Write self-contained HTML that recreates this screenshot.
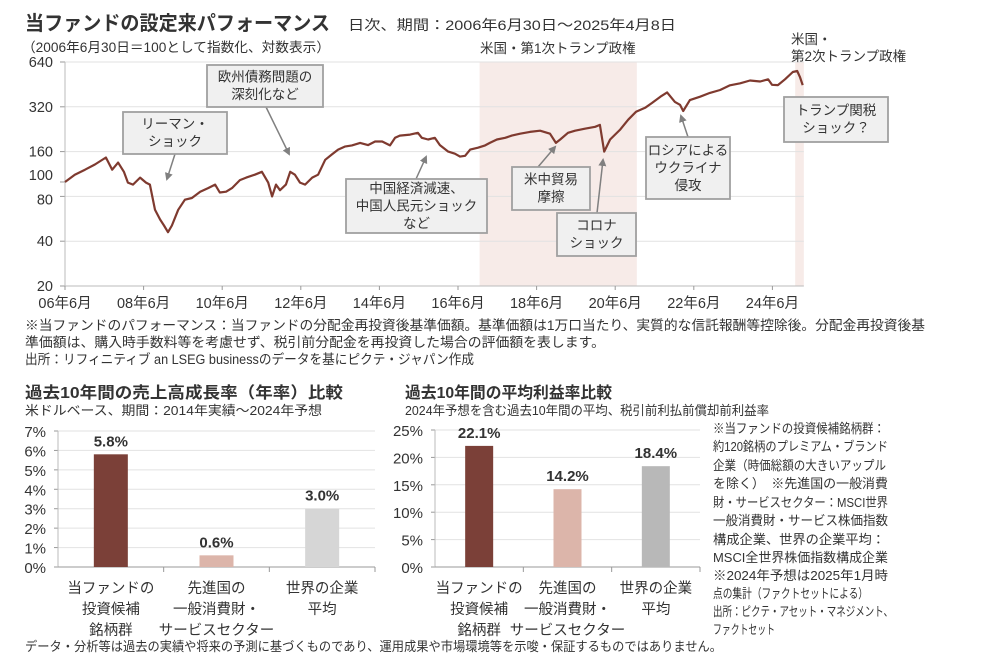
<!DOCTYPE html>
<html><head><meta charset="utf-8">
<style>
body{margin:0;background:#fff;}
svg{display:block;font-family:"Liberation Sans","Noto Sans CJK JP",sans-serif;}
</style></head>
<body>
<svg id="svg" width="1005" height="657" viewBox="0 0 1005 657">
<text x="25" y="30" font-size="20" font-weight="bold" fill="#333" textLength="305" lengthAdjust="spacingAndGlyphs">当ファンドの設定来パフォーマンス</text>
<text x="348" y="30" font-size="14" fill="#333" textLength="328" lengthAdjust="spacingAndGlyphs">日次、期間：2006年6月30日～2025年4月8日</text>
<text x="22" y="52" font-size="13.5" fill="#333" textLength="308" lengthAdjust="spacingAndGlyphs">（2006年6月30日＝100として指数化、対数表示）</text>
<g id="line-chart"></g>
<text x="25" y="330" font-size="13.5" fill="#333" textLength="900" lengthAdjust="spacingAndGlyphs">※当ファンドのパフォーマンス：当ファンドの分配金再投資後基準価額。基準価額は1万口当たり、実質的な信託報酬等控除後。分配金再投資後基</text>
<text x="25" y="347" font-size="13.5" fill="#333" textLength="580" lengthAdjust="spacingAndGlyphs">準価額は、購入時手数料等を考慮せず、税引前分配金を再投資した場合の評価額を表します。</text>
<text x="25" y="364" font-size="13.5" fill="#333" textLength="449" lengthAdjust="spacingAndGlyphs">出所：リフィニティブ an LSEG businessのデータを基にピクテ・ジャパン作成</text>
<text x="25" y="398" font-size="16" font-weight="bold" fill="#333" textLength="318" lengthAdjust="spacingAndGlyphs">過去10年間の売上高成長率（年率）比較</text>
<text x="25" y="415" font-size="13" fill="#333" textLength="297" lengthAdjust="spacingAndGlyphs">米ドルベース、期間：2014年実績～2024年予想</text>
<text x="405" y="398" font-size="16" font-weight="bold" fill="#333" textLength="207" lengthAdjust="spacingAndGlyphs">過去10年間の平均利益率比較</text>
<text x="405" y="415" font-size="13" fill="#333" textLength="364" lengthAdjust="spacingAndGlyphs">2024年予想を含む過去10年間の平均、税引前利払前償却前利益率</text>
<g id="bar1"></g>
<g id="bar2"></g>
<g font-size="13" fill="#333">
<text x="713" y="433" textLength="172" lengthAdjust="spacingAndGlyphs">※当ファンドの投資候補銘柄群：</text>
<text x="713" y="451" textLength="175" lengthAdjust="spacingAndGlyphs">約120銘柄のプレミアム・ブランド</text>
<text x="713" y="470" textLength="173" lengthAdjust="spacingAndGlyphs">企業（時価総額の大きいアップル</text>
<text x="713" y="488" textLength="175" lengthAdjust="spacingAndGlyphs">を除く）　※先進国の一般消費</text>
<text x="713" y="507" textLength="175" lengthAdjust="spacingAndGlyphs">財・サービスセクター：MSCI世界</text>
<text x="713" y="525" textLength="175" lengthAdjust="spacingAndGlyphs">一般消費財・サービス株価指数</text>
<text x="713" y="544" textLength="172" lengthAdjust="spacingAndGlyphs">構成企業、世界の企業平均：</text>
<text x="713" y="562" textLength="175" lengthAdjust="spacingAndGlyphs">MSCI全世界株価指数構成企業</text>
<text x="713" y="580" textLength="175" lengthAdjust="spacingAndGlyphs">※2024年予想は2025年1月時</text>
<text x="713" y="598" textLength="155" lengthAdjust="spacingAndGlyphs">点の集計（ファクトセットによる）</text>
<text x="713" y="616" textLength="180" lengthAdjust="spacingAndGlyphs">出所：ピクテ・アセット・マネジメント、</text>
<text x="713" y="634" textLength="62" lengthAdjust="spacingAndGlyphs">ファクトセット</text>
</g>
<text x="25" y="651" font-size="13" fill="#333" textLength="697" lengthAdjust="spacingAndGlyphs">データ・分析等は過去の実績や将来の予測に基づくものであり、運用成果や市場環境等を示唆・保証するものではありません。</text>
</svg>
<script>
const years=[2006.5,2006.75,2007.01,2007.26,2007.54,2007.70,2007.85,2008.00,2008.10,2008.23,2008.41,2008.56,2008.66,2008.79,2008.92,2009.02,2009.12,2009.22,2009.38,2009.55,2009.73,2009.94,2010.14,2010.32,2010.44,2010.60,2010.75,2010.95,2011.11,2011.33,2011.51,2011.67,2011.77,2011.87,2011.97,2012.12,2012.23,2012.35,2012.48,2012.61,2012.79,2012.94,2013.12,2013.29,2013.45,2013.62,2013.80,2014.01,2014.21,2014.39,2014.57,2014.77,2014.90,2015.02,2015.28,2015.48,2015.58,2015.74,2015.91,2016.04,2016.25,2016.42,2016.55,2016.68,2016.81,2017.01,2017.19,2017.31,2017.49,2017.70,2017.87,2018.08,2018.33,2018.59,2018.84,2018.99,2019.10,2019.30,2019.48,2019.73,2019.99,2020.11,2020.22,2020.37,2020.62,2020.83,2021.03,2021.26,2021.44,2021.65,2021.82,2022.02,2022.15,2022.23,2022.40,2022.66,2022.91,2023.17,2023.42,2023.68,2023.93,2024.19,2024.39,2024.49,2024.64,2024.82,2025.02,2025.13,2025.20,2025.27];
const navValues=[100,112,121,131,146,121,135,117,99,96,107,99,96,65,56,51,46,51,65,76,78,86,91,96,85,86,91,103,107,112,117,99,80,96,88,96,117,112,99,96,107,112,141,153,165,173,176,183,177,187,187,176,198,205,208,214,198,193,198,177,160,155,148,150,165,170,176,183,193,198,205,211,217,221,211,183,193,214,221,228,235,242,160,193,224,262,296,315,340,374,400,345,330,300,355,374,397,415,446,460,481,473,490,450,448,490,548,557,508,448];
const yTicks=[20,40,80,100,160,320,640];
const xTickYears=[2006,2008,2010,2012,2014,2016,2018,2020,2022,2024];
const xTickLabels=["06年6月","08年6月","10年6月","12年6月","14年6月","16年6月","18年6月","20年6月","22年6月","24年6月"];
const salesCats=[["当ファンドの","投資候補","銘柄群"],["先進国の","一般消費財・","サービスセクター"],["世界の企業","平均"]];
const salesValues=[5.8,0.6,3.0];
const salesTicks=[0,1,2,3,4,5,6,7];
const marginValues=[22.1,14.2,18.4];
const marginTicks=[0,5,10,15,20,25];

const NS="http://www.w3.org/2000/svg";
function mk(tag,attrs,parent,txt){const e=document.createElementNS(NS,tag);for(const k in attrs)e.setAttribute(k,attrs[k]);if(txt!==undefined)e.textContent=txt;parent.appendChild(e);return e;}

const lc=document.getElementById('line-chart');
const X0=65,PXY=39.3,Y640=62,PXD=44.8;
const xs=y=>X0+(y-2006.5)*PXY;
const ys=v=>Y640+Math.log2(640/v)*PXD;
let s1=mk('rect',{x:xs(2017.05),y:Y640,width:xs(2021.05)-xs(2017.05),height:ys(20)-Y640,fill:'#f7ebe8'},lc);


let s2=mk('rect',{x:xs(2025.08),y:Y640,width:xs(2025.3)-xs(2025.08),height:ys(20)-Y640,fill:'#f7ebe8'},lc);


yTicks.forEach(t=>{
  const y=ys(t);
  if(t!==20&&t!==100){let g=mk('line',{x1:X0,x2:xs(2025.3),y1:y,y2:y,stroke:'#e2e2e2','stroke-width':1},lc);
  
  }
  mk('line',{x1:X0-5,x2:X0,y1:y,y2:y,stroke:'#999'},lc);
  let l=mk('text',{x:X0-12,y:y+(t===100?-2:t===80?8:5),'text-anchor':'end','font-size':14.5,fill:'#333'},lc,String(t));
  
  
});
mk('line',{x1:X0,x2:X0,y1:Y640,y2:ys(20),stroke:'#bbb'},lc);
mk('line',{x1:X0,x2:xs(2025.3),y1:ys(20),y2:ys(20),stroke:'#bbb'},lc);
xTickYears.forEach((yr,i)=>{
  const x=xs(yr+0.5);
  mk('line',{x1:x,x2:x,y1:ys(20),y2:ys(20)+4,stroke:'#999'},lc);
  let l=mk('text',{x:x,y:ys(20)+22,'text-anchor':'middle','font-size':14.5,fill:'#333'},lc,xTickLabels[i]);
  
  
});
let d='';years.forEach((y,i)=>{d+=(i?'L':'M')+xs(y).toFixed(1)+','+ys(navValues[i]).toFixed(1);});
let pl=mk('path',{d:d,fill:'none',stroke:'#7f3a2f','stroke-width':2.2,'stroke-linejoin':'round'},lc);


let t1=mk('text',{x:480,y:53,'font-size':13.5,fill:'#333'},lc,'米国・第1次トランプ政権');


let t2=mk('text',{x:791,y:44,'font-size':13.5,fill:'#333'},lc,'米国・');


mk('text',{x:791,y:61,'font-size':13.5,fill:'#333'},lc,'第2次トランプ政権');
mk('defs',{},lc).innerHTML='<marker id="ah" markerWidth="8" markerHeight="8" refX="6" refY="4" orient="auto" markerUnits="userSpaceOnUse"><path d="M0,0L8,4L0,8z" fill="#808080"/></marker>';
const boxes=[
 {x:207,y:65,w:116,h:42,lines:['欧州債務問題の','深刻化など'],a:[266,107,289,154],n:'euro-debt'},
 {x:123,y:112,w:104,h:42,lines:['リーマン・','ショック'],a:[175,154,167,179],n:'lehman'},
 {x:346,y:179,w:141,h:54,lines:['中国経済減速、','中国人民元ショック','など'],a:[416,179,426,157],n:'china'},
 {x:512,y:167,w:78,h:43,lines:['米中貿易','摩擦'],a:[538,167,555,147],n:'trade-war'},
 {x:557,y:213,w:79,h:43,lines:['コロナ','ショック'],a:[597,213,603,160],n:'covid'},
 {x:646,y:137,w:84,h:62,lines:['ロシアによる','ウクライナ','侵攻'],a:[688,137,681,116],n:'ukraine'},
 {x:784,y:97,w:104,h:45,lines:['トランプ関税','ショック？'],a:null,n:'tariff'}
];
boxes.forEach(b=>{
  if(b.a){mk('line',{x1:b.a[0],y1:b.a[1],x2:b.a[2],y2:b.a[3],stroke:'#808080','stroke-width':1.5,'marker-end':'url(#ah)'},lc);}
  let r=mk('rect',{x:b.x,y:b.y,width:b.w,height:b.h,fill:'#f0f0f0',stroke:'#a0a0a0','stroke-width':1.8},lc);
  
  
  const lh=17.5, top=b.y+b.h/2-(b.lines.length*lh)/2+13;
  b.lines.forEach((s,i)=>mk('text',{x:b.x+b.w/2,y:top+i*lh,'text-anchor':'middle','font-size':13.5,fill:'#333'},lc,s));
});

function barChart(gid,vals,ticks,x0,x1,y0,yTop,maxV,barW,colors,labels){
  const g=document.getElementById(gid);
  const ysc=v=>y0-(v/maxV)*(y0-yTop);
  ticks.forEach(t=>{
    const y=ysc(t);
    if(t>0){let gl=mk('line',{x1:x0,x2:x1,y1:y,y2:y,stroke:'#e2e2e2'},g);
    
    }
    mk('line',{x1:x0-4,x2:x0,y1:y,y2:y,stroke:'#999'},g);
    let l=mk('text',{x:x0-12,y:y+6,'text-anchor':'end','font-size':15,fill:'#333'},g,t+'%');
    
    
  });
  mk('line',{x1:x0,x2:x0,y1:yTop,y2:y0,stroke:'#bbb'},g);
  mk('line',{x1:x0,x2:x1,y1:y0,y2:y0,stroke:'#999'},g);
  const bw=(x1-x0)/vals.length;
  for(let i=1;i<=vals.length;i++)mk('line',{x1:x0+bw*i,x2:x0+bw*i,y1:y0,y2:y0+5,stroke:'#999'},g);
  vals.forEach((v,i)=>{
    const cx=x0+bw*(i+0.5);
    let r=mk('rect',{x:cx-barW/2,y:ysc(v),width:barW,height:y0-ysc(v),fill:colors[i]},g);
    
    
    let vl=mk('text',{x:cx,y:ysc(v)-8,'text-anchor':'middle','font-size':15,'font-weight':'bold',fill:'#333'},g,v.toFixed(1)+'%');
    
    
    labels[i].forEach((s,j)=>{
      let cl=mk('text',{x:cx,y:y0+26+j*21,'text-anchor':'middle','font-size':14.5,fill:'#333'},g,s);
      
      
    });
  });
}
barChart('bar1',salesValues,salesTicks,58,375,567,431,7,34,['#7b4038','#dcb5aa','#d6d6d6'],salesCats);
barChart('bar2',marginValues,marginTicks,435,700,567,430,25,28,['#7b4038','#dcb5aa','#b8b8b8'],salesCats);
</script>
</body></html>
